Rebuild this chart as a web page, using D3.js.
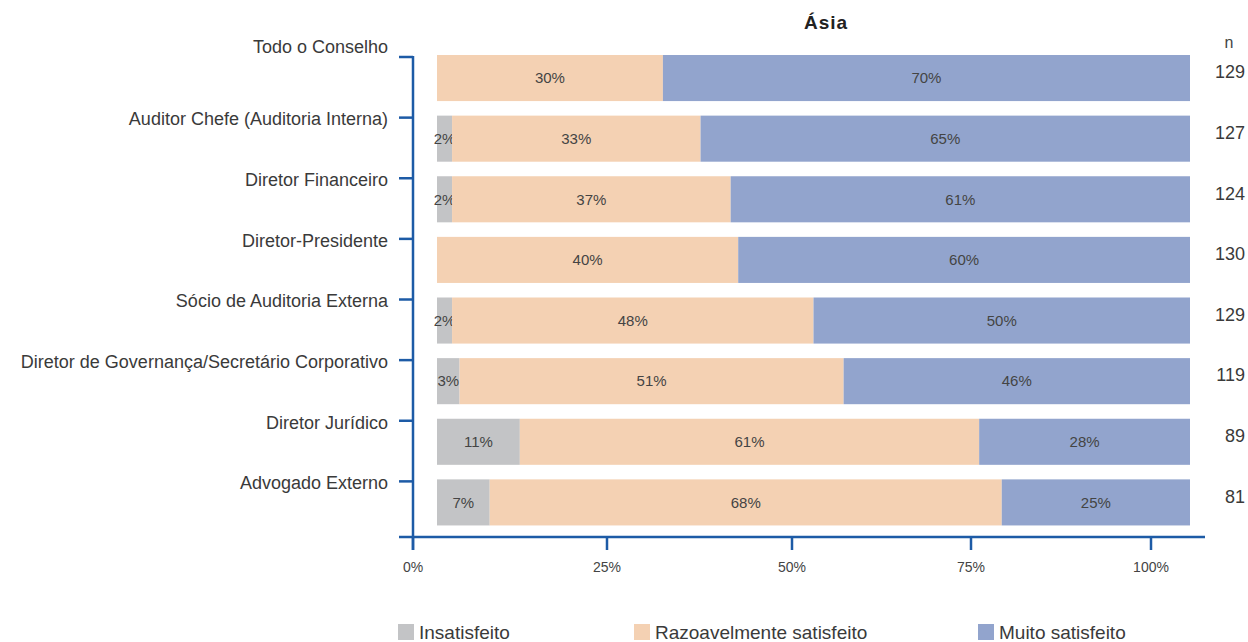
<!DOCTYPE html>
<html><head><meta charset="utf-8">
<script src="https://cdn.jsdelivr.net/npm/d3@7"></script>
<style>body{margin:0;background:#fff}svg{display:block}</style>
</head><body>
<svg id="c" width="1248" height="642"></svg>
<script>
const categories = ["Todo o Conselho","Auditor Chefe (Auditoria Interna)","Diretor Financeiro","Diretor-Presidente","Sócio de Auditoria Externa","Diretor de Governança/Secretário Corporativo","Diretor Jurídico","Advogado Externo"];
const insatisfeito = [0,2,2,0,2,3,11,7];
const razoavel = [30,33,37,40,48,51,61,68];
const muito = [70,65,61,60,50,46,28,25];
const nValues = [129,127,124,130,129,119,89,81];
const seriesNames = ["Insatisfeito","Razoavelmente satisfeito","Muito satisfeito"];
const axisTicks = [0,0.25,0.5,0.75,1];
const title = "Ásia";

const colors = ["#c3c4c6","#f4d1b3","#92a4cd"];
const axisColor = "#1d5ba6";
const font = "'Liberation Sans', Arial, sans-serif";

const svg = d3.select("#c");
const xBar = d3.scaleLinear().domain([0,100]).range([437,1190]);
const xAxis = d3.scaleLinear().domain([0,0.25,0.5,0.75,1]).range([413,607,792,971,1151]);
const y = d3.scaleBand().domain(categories).range([55,540]).paddingInner(0.24).paddingOuter(0.12).align(0);

const rows = categories.map((c,i)=>({cat:c, vals:[insatisfeito[i],razoavel[i],muito[i]], n:nValues[i]}));
const stack = d3.stack().keys([0,1,2]).value((d,k)=>d.vals[k]);
const stacked = stack(rows);

// bars
stacked.forEach((layer,k)=>{
  const g = svg.append("g");
  g.selectAll("rect").data(layer).join("rect")
    .attr("x",d=>xBar(d[0])).attr("y",d=>y(d.data.cat))
    .attr("width",d=>Math.max(0,xBar(d[1])-xBar(d[0])))
    .attr("height",y.bandwidth()).attr("fill",colors[k]);
  g.selectAll("text").data(layer.filter(d=>d[1]-d[0]>0)).join("text")
    .attr("x",d=>(xBar(d[0])+xBar(d[1]))/2)
    .attr("y",d=>y(d.data.cat)+y.bandwidth()/2)
    .attr("dy","0.35em").attr("text-anchor","middle")
    .attr("font-family",font).attr("font-size",15).attr("fill","#444")
    .text(d=>(d[1]-d[0])+"%");
});

// y axis
svg.append("line").attr("x1",413).attr("x2",413).attr("y1",y(categories[0])+1).attr("y2",550)
  .attr("stroke",axisColor).attr("stroke-width",2.5);
svg.append("g").selectAll("line").data(categories).join("line")
  .attr("x1",399).attr("x2",413).attr("y1",d=>y(d)+2).attr("y2",d=>y(d)+2)
  .attr("stroke",axisColor).attr("stroke-width",2.5);
svg.append("g").selectAll("text").data(categories).join("text")
  .attr("x",388).attr("y",(d,i)=>y(d)+(i===0?-8:3.5)).attr("dy","0.35em")
  .attr("text-anchor","end").attr("font-family",font).attr("font-size",18).attr("fill","#3a3a3a")
  .text(d=>d);

// x axis
svg.append("line").attr("x1",399).attr("x2",1205).attr("y1",537).attr("y2",537)
  .attr("stroke",axisColor).attr("stroke-width",2.5);
const xg = svg.append("g");
xg.selectAll("line").data(axisTicks).join("line")
  .attr("x1",d=>xAxis(d)).attr("x2",d=>xAxis(d)).attr("y1",537).attr("y2",550)
  .attr("stroke",axisColor).attr("stroke-width",2.5);
xg.selectAll("text").data(axisTicks).join("text")
  .attr("x",d=>xAxis(d)).attr("y",567).attr("dy","0.35em").attr("text-anchor","middle")
  .attr("font-family",font).attr("font-size",14).attr("fill","#444")
  .text(d3.format(".0%"));

// title
svg.append("text").attr("x",826).attr("y",22).attr("dy","0.35em").attr("text-anchor","middle")
  .attr("font-family",font).attr("font-size",19).attr("letter-spacing","1").attr("font-weight","bold").attr("fill","#222").text(title);

// n column
svg.append("text").attr("x",1229).attr("y",42).attr("dy","0.35em").attr("text-anchor","middle")
  .attr("font-family",font).attr("font-size",16).attr("fill","#444").text("n");
svg.append("g").selectAll("text").data(rows).join("text")
  .attr("x",1245).attr("y",d=>y(d.cat)+y.bandwidth()/2-6).attr("dy","0.35em").attr("text-anchor","end")
  .attr("font-family",font).attr("font-size",18).attr("fill","#3a3a3a").text(d=>d.n);

// legend
const legX = [398,634,978];
const lg = svg.append("g").selectAll("g").data(seriesNames).join("g")
  .attr("transform",(d,i)=>`translate(${legX[i]},624)`);
lg.append("rect").attr("width",16).attr("height",16).attr("fill",(d,i)=>colors[i]);
lg.append("text").attr("x",21).attr("y",15).attr("font-family",font).attr("font-size",19).attr("fill","#3a3a3a").text(d=>d);
</script>
</body></html>
